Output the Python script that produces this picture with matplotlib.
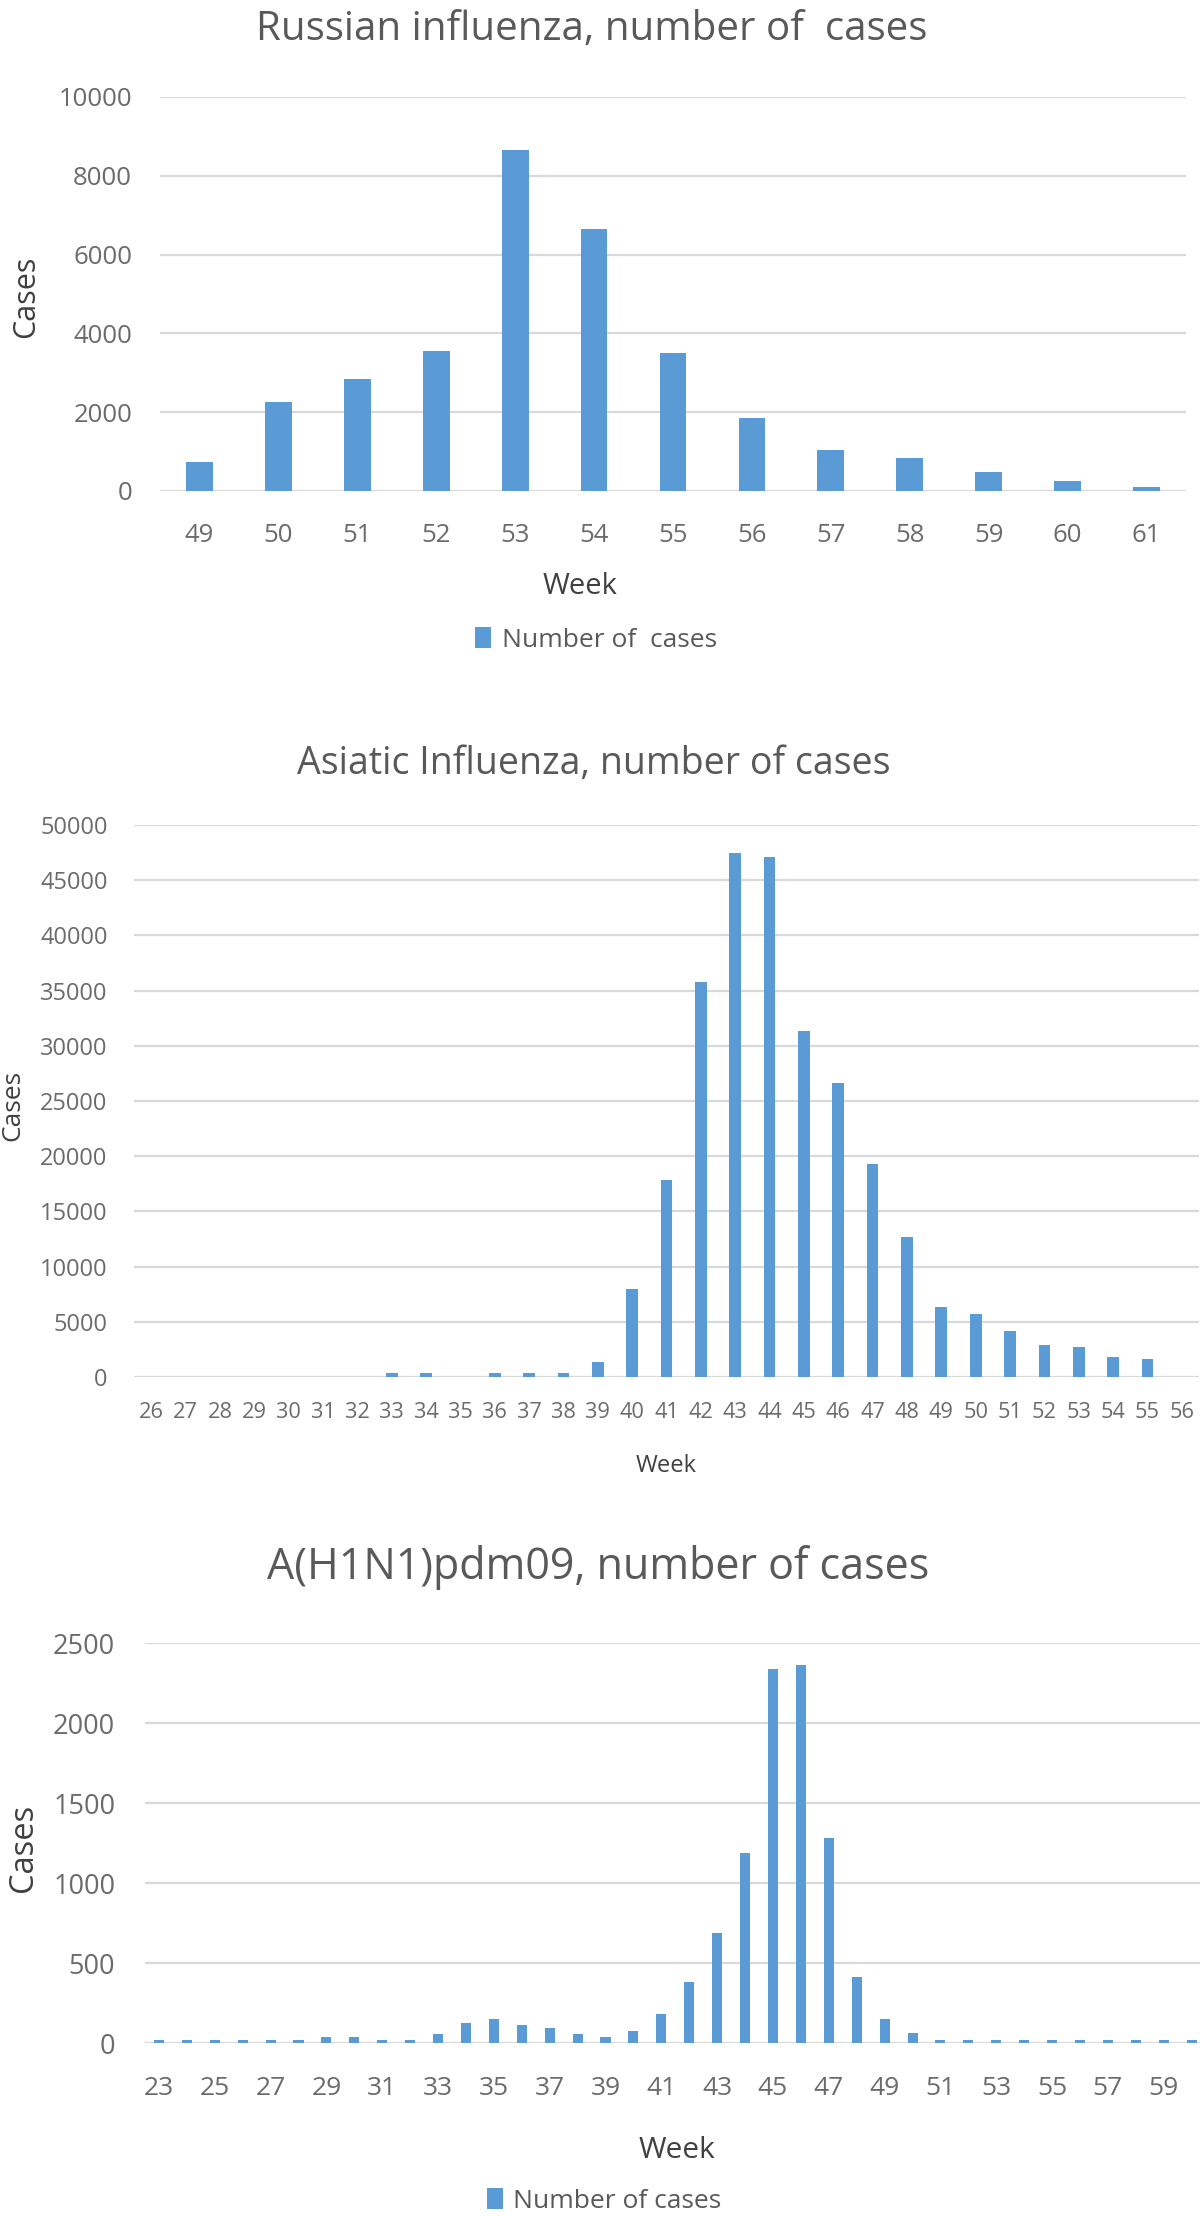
import matplotlib
matplotlib.use("Agg")
import matplotlib.pyplot as plt

# ---------------- data ----------------
russian_weeks = [49, 50, 51, 52, 53, 54, 55, 56, 57, 58, 59, 60, 61]
russian_cases = [740, 2250, 2830, 3550, 8650, 6650, 3490, 1850, 1040, 830, 480, 250, 110]

asiatic_weeks = list(range(26, 57))
asiatic_cases = [0, 0, 0, 0, 0, 0, 0, 400, 400, 0, 400, 400, 400, 1400,
                 8000, 17850, 35750, 47500, 47100, 31300, 26600, 19300, 12650,
                 6300, 5700, 4150, 2900, 2700, 1800, 1650, 0]

h1n1_weeks = list(range(23, 61))
h1n1_cases = [20, 20, 20, 20, 20, 20, 40, 40, 20, 20, 55, 125, 150, 110, 95,
              55, 40, 75, 180, 380, 690, 1190, 2340, 2360, 1280, 415, 150, 60,
              20, 20, 20, 20, 20, 20, 20, 20, 20, 20]

titles = ["Russian influenza, number of  cases",
          "Asiatic Influenza, number of cases",
          "A(H1N1)pdm09, number of cases"]
legend_labels = ["Number of  cases", None, "Number of cases"]

# ---------------- style ----------------
W, H = 1200, 2216
DPI = 100
BAR = "#5B9BD5"
GRID = "#D9D9D9"
TICK = "#6B6B6B"
TITLE = "#595959"
LABEL = "#404040"
plt.rcParams["font.family"] = ["Open Sans", "DejaVu Sans"]

fig = plt.figure(figsize=(W / DPI, H / DPI), dpi=DPI)
fig.patch.set_facecolor("white")


def px_axes(l, t, r, b):
    return fig.add_axes([l / W, 1 - b / H, (r - l) / W, (b - t) / H])


def style(ax, ymax, ystep, ytick_fs, xtick_fs, ypad, xpad):
    ax.set_ylim(0, ymax)
    ax.set_yticks(range(0, ymax + 1, ystep))
    for s in ax.spines.values():
        s.set_visible(False)
    ax.grid(axis="y", color=GRID, linewidth=1.6)
    ax.set_axisbelow(True)
    ax.tick_params(axis="both", length=0, colors=TICK)
    ax.tick_params(axis="y", labelsize=ytick_fs, pad=ypad)
    ax.tick_params(axis="x", labelsize=xtick_fs, pad=xpad)


def fig_text(x, y, s, **kw):
    fig.text(x / W, 1 - y / H, s, ha="center", va="center", **kw)


# ---- panel 1 ----
ax1 = px_axes(160, 97, 1186, 491)
pos1 = list(range(len(russian_weeks)))
b1 = ax1.bar(pos1, russian_cases, width=0.34, color=BAR, label=legend_labels[0])
ax1.set_xlim(-0.5, len(russian_weeks) - 0.5)
ax1.set_xticks(pos1, [str(w) for w in russian_weeks])
style(ax1, 10000, 2000, 18.5, 18.5, 20, 23)
fig_text(592, 30, titles[0], fontsize=29, color=TITLE)
fig_text(580, 586, "Week", fontsize=21, color=LABEL)
fig_text(26, 297, "Cases", fontsize=22, color=LABEL, rotation=90)
fig.legend(handles=[b1], loc="center", bbox_to_anchor=(596 / W, 1 - 640 / H),
           frameon=False, fontsize=19, handlelength=0.6, handleheight=0.8,
           handletextpad=0.4, labelcolor=TITLE)

# ---- panel 2 ----
ax2 = px_axes(134, 825, 1199, 1377)
pos2 = list(range(len(asiatic_weeks)))
ax2.bar(pos2, asiatic_cases, width=0.34, color=BAR)
ax2.set_xlim(-0.5, len(asiatic_weeks) - 0.5)
ax2.set_xticks(pos2, [str(w) for w in asiatic_weeks])
style(ax2, 50000, 5000, 17, 15.7, 19, 18)
fig_text(594, 764, titles[1], fontsize=27, color=TITLE)
fig_text(666, 1466, "Week", fontsize=17, color=LABEL)
fig_text(13, 1105, "Cases", fontsize=19, color=LABEL, rotation=90)

# ---- panel 3 ----
ax3 = px_axes(145, 1643, 1200, 2043)
pos3 = list(range(len(h1n1_weeks)))
b3 = ax3.bar(pos3, h1n1_cases, width=0.36, color=BAR, label=legend_labels[2])
ax3.set_xlim(-0.5, len(h1n1_weeks) - 0.7)
ax3.set_xticks(pos3[::2], [str(w) for w in h1n1_weeks[::2]])
style(ax3, 2500, 500, 19.5, 19, 21.5, 24)
fig_text(598, 1568, titles[2], fontsize=31, color=TITLE)
fig_text(677, 2150, "Week", fontsize=21.5, color=LABEL)
fig_text(23, 1848, "Cases", fontsize=23.5, color=LABEL, rotation=90)
fig.legend(handles=[b3], loc="center", bbox_to_anchor=(604 / W, 1 - 2201 / H),
           frameon=False, fontsize=19, handlelength=0.6, handleheight=0.8,
           handletextpad=0.4, labelcolor=TITLE)

fig.savefig("out.png", dpi=DPI, facecolor="white")
